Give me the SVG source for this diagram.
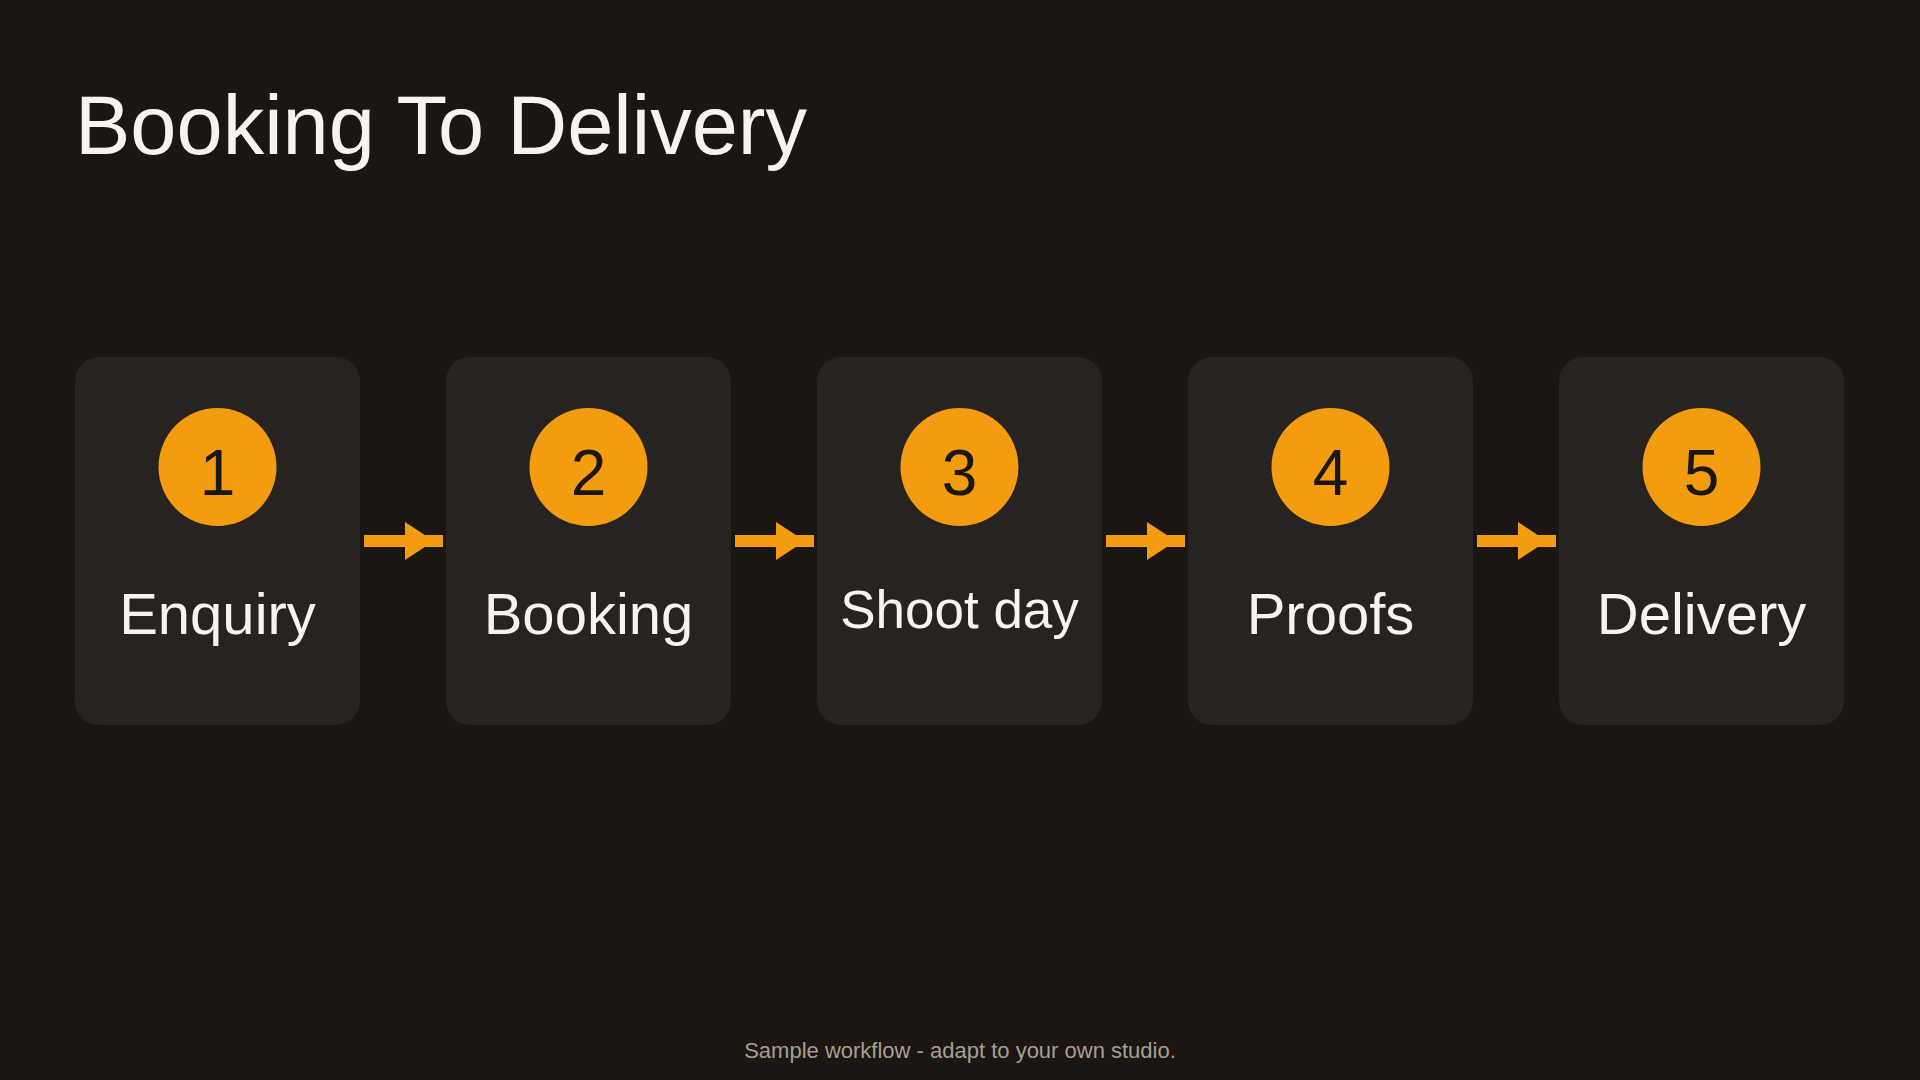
<svg xmlns="http://www.w3.org/2000/svg" width="1920" height="1080" viewBox="0 0 1920 1080">
<style>
.box{fill:#272320}
.badge{fill:#f39c0f}
.num{font-family:"Liberation Sans",Arial,sans-serif;font-size:64px;fill:#1b1612;text-anchor:middle}
.lbl{font-family:"Liberation Sans",Arial,sans-serif;font-size:58px;fill:#f7f3ee;text-anchor:middle}
.shaft{stroke:#f39c0f;stroke-width:12}
.head{fill:#f39c0f}
</style>
<rect width="1920" height="1080" fill="#1b1612"/>
<text x="75" y="154" font-family="Liberation Sans, Arial, sans-serif" font-size="83" fill="#f7f3ee">Booking To Delivery</text>
<g id="connectors">
<g><line class="shaft" x1="364" y1="541" x2="443" y2="541"/><polygon class="head" points="405,522 434,541 405,560"/></g>
<g><line class="shaft" x1="735" y1="541" x2="814" y2="541"/><polygon class="head" points="776,522 805,541 776,560"/></g>
<g><line class="shaft" x1="1106" y1="541" x2="1185" y2="541"/><polygon class="head" points="1147,522 1176,541 1147,560"/></g>
<g><line class="shaft" x1="1477" y1="541" x2="1556" y2="541"/><polygon class="head" points="1518,522 1547,541 1518,560"/></g>
</g>
<g id="step1"><rect class="box" x="75" y="357" width="285" height="368" rx="24"/><circle class="badge" cx="217.5" cy="467" r="59"/><text class="num" x="217.5" y="495">1</text><text class="lbl" x="217.5" y="634">Enquiry</text></g>
<g id="step2"><rect class="box" x="446" y="357" width="285" height="368" rx="24"/><circle class="badge" cx="588.5" cy="467" r="59"/><text class="num" x="588.5" y="495">2</text><text class="lbl" x="588.5" y="634">Booking</text></g>
<g id="step3"><rect class="box" x="817" y="357" width="285" height="368" rx="24"/><circle class="badge" cx="959.5" cy="467" r="59"/><text class="num" x="959.5" y="495">3</text><text class="lbl" x="959.5" y="628" style="font-size:53px">Shoot day</text></g>
<g id="step4"><rect class="box" x="1188" y="357" width="285" height="368" rx="24"/><circle class="badge" cx="1330.5" cy="467" r="59"/><text class="num" x="1330.5" y="495">4</text><text class="lbl" x="1330.5" y="634">Proofs</text></g>
<g id="step5"><rect class="box" x="1559" y="357" width="285" height="368" rx="24"/><circle class="badge" cx="1701.5" cy="467" r="59"/><text class="num" x="1701.5" y="495">5</text><text class="lbl" x="1701.5" y="634">Delivery</text></g>
<text x="960" y="1058" text-anchor="middle" font-family="Liberation Sans, Arial, sans-serif" font-size="22" fill="#a89e91">Sample workflow - adapt to your own studio.</text>
</svg>
